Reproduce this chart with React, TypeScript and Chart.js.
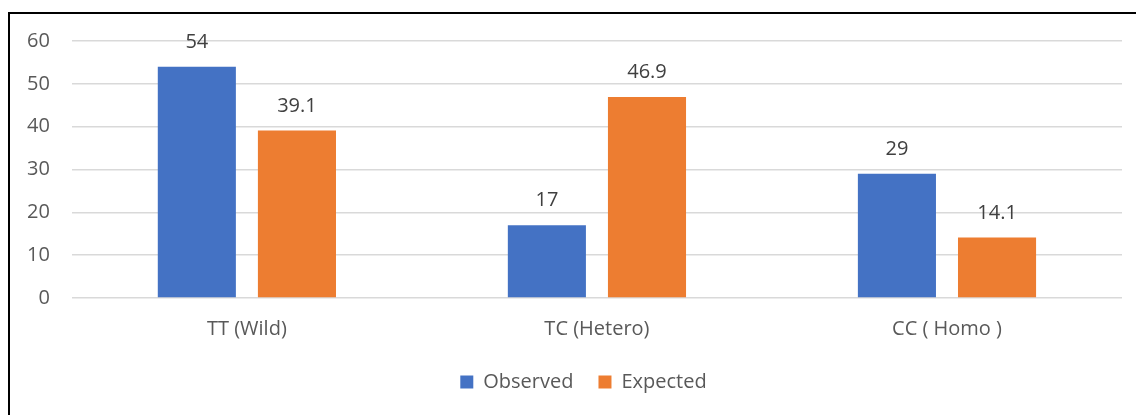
import React, { useEffect, useRef } from "react";
import { Chart, registerables } from "chart.js";

Chart.register(...registerables);

const categories = ["TT (Wild)", "TC (Hetero)", "CC ( Homo )"];
const observed = [54, 17, 29];
const expected = [39.1, 46.9, 14.1];
const yTicks = [0, 10, 20, 30, 40, 50, 60];

const FONT = "'Open Sans', 'Noto Sans', sans-serif";
const LEGEND_DY = -13;
const LEGEND_DX = 9;

const valueLabels = {
  id: "valueLabels",
  afterDatasetsDraw(chart: any) {
    const ctx = chart.ctx;
    ctx.save();
    ctx.font = `20px ${FONT}`;
    ctx.fillStyle = "#404040";
    ctx.textAlign = "center";
    ctx.textBaseline = "alphabetic";
    chart.data.datasets.forEach((ds: any, i: number) => {
      const meta = chart.getDatasetMeta(i);
      meta.data.forEach((el: any, j: number) => {
        ctx.fillText(String(ds.data[j]), el.x, el.y - 19);
      });
    });
    ctx.restore();
  },
};

const legendShift = {
  id: "legendShift",
  afterLayout(chart: any) {
    if (chart.legend) {
      chart.legend.top += LEGEND_DY;
      chart.legend.bottom += LEGEND_DY;
      chart.legend.left += LEGEND_DX;
      chart.legend.right += LEGEND_DX;
    }
  },
};

export default function App() {
  const ref = useRef<HTMLCanvasElement>(null);
  useEffect(() => {
    if (!ref.current) return;
    const chart = new Chart(ref.current, {
      type: "bar",
      data: {
        labels: categories,
        datasets: [
          {
            label: "Observed",
            data: observed,
            backgroundColor: "#4472C4",
            barPercentage: 0.78,
            categoryPercentage: 0.572,
          },
          {
            label: "Expected",
            data: expected,
            backgroundColor: "#ED7D31",
            barPercentage: 0.78,
            categoryPercentage: 0.572,
          },
        ],
      },
      options: {
        responsive: false,
        animation: false,
        layout: { padding: { left: 17, right: 14, top: 27, bottom: 0 } },
        scales: {
          x: {
            grid: { display: false, drawTicks: false },
            border: { display: false },
            ticks: { color: "#595959", font: { family: FONT, size: 20 }, padding: 19 },
            afterFit(axis: any) {
              axis.paddingLeft = 0;
              axis.paddingRight = 0;
            },
          },
          y: {
            min: 0,
            max: 60,
            afterBuildTicks(axis: any) {
              axis.ticks = yTicks.map((v) => ({ value: v }));
            },
            afterFit(axis: any) {
              axis.paddingTop = 0;
              axis.paddingBottom = 0;
              axis.width -= 22;
            },
            grid: { color: "#d9d9d9", lineWidth: 1.5, drawTicks: false },
            border: { display: false },
            ticks: { color: "#595959", font: { family: FONT, size: 20 }, padding: 22 },
          },
        },
        plugins: {
          legend: {
            position: "bottom",
            labels: {
              boxWidth: 13,
              boxHeight: 13,
              padding: 25,
              color: "#595959",
              font: { family: FONT, size: 20 },
            },
          },
          tooltip: { enabled: false },
        },
      },
      plugins: [valueLabels, legendShift],
    });
    return () => chart.destroy();
  }, []);

  return (
    <div style={{ position: "fixed", inset: 0, overflow: "hidden", background: "#fff" }}>
      <div
        style={{
          position: "absolute",
          left: 8,
          top: 12,
          width: 1140,
          height: 420,
          border: "2px solid #000",
          boxSizing: "border-box",
        }}
      >
        <canvas ref={ref} width={1126} height={401} style={{ display: "block" }} />
      </div>
    </div>
  );
}
